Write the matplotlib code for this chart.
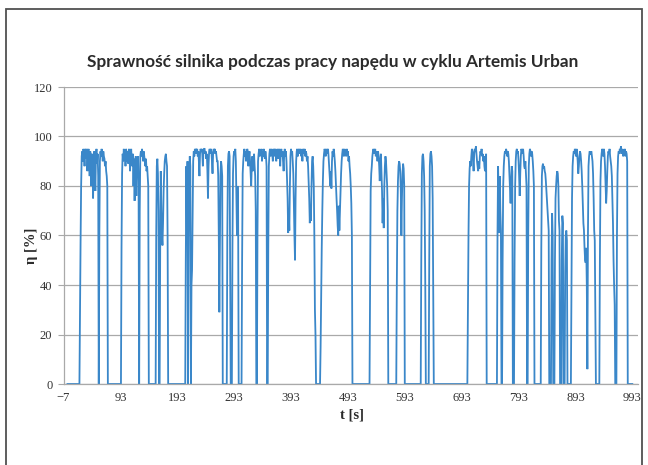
import numpy as np
import matplotlib
matplotlib.use("Agg")
import matplotlib.pyplot as plt
from matplotlib.patches import Rectangle

# ---- data: efficiency (%) sampled at 1 s; zero outside the listed segments ----
cycle_end_s = 993
seg_starts = [22, 95, 156, 208, 281, 307, 334, 353, 445, 532, 579, 622, 636,
              704, 756, 786, 833, 886, 936]
seg_a = [30, 57, 80, 92, 94, 90, 95, 93, 88, 95, 94, 91, 95, 86, 93, 95, 90, 84, 94, 92,
         80, 93, 88, 75, 90, 94, 86, 78, 92, 95, 89, 93, 84, 0, 60, 90, 94, 92, 95, 93,
         90, 94, 92, 91, 88, 90, 86, 84, 80]
seg_b = [55, 85, 93, 90, 95, 92, 94, 88, 95, 93, 90, 94, 89, 95, 92, 86, 93, 95, 90, 88,
         93, 80, 91, 74, 88, 92, 76, 90, 85, 92, 80, 0, 70, 92, 94, 92, 95, 93, 90, 94,
         92, 90, 88, 91, 86, 88, 84, 80]
seg_c = [60, 88, 91, 85, 70, 0, 0, 55, 86, 70, 60, 56, 65, 78, 85, 90, 92, 93, 90, 88, 60]
seg_d = [50, 88, 60, 90, 0, 60, 85, 92, 88, 0, 40, 46, 70, 90, 94, 92, 95,
         93, 95, 94, 95, 92, 94, 90, 84, 93, 95, 94, 95, 93, 88, 94, 95, 95, 93, 94, 91,
         93, 86, 75, 88, 94, 95, 93, 95, 94, 90, 85, 93, 95, 94, 95, 93, 94, 92, 90,
         90, 84, 60, 29, 60, 85, 90, 88, 84]
seg_e = [60, 88, 93, 94, 92, 50, 0, 0, 0, 55, 85, 92, 94, 93, 95, 90, 75, 60, 80, 70]
seg_f = [50, 85, 90, 93, 95, 92, 94, 90, 93, 95, 94, 88, 92, 94, 90, 85, 80, 88, 92, 86,
         90, 93, 88, 84, 70]
seg_g = [60, 90, 93, 95, 92, 94, 93, 95, 90, 94, 92, 95, 93, 91, 94, 92, 88]
seg_h = [55, 88, 93, 95, 92, 94, 95, 93, 90, 94, 95, 92, 95, 94, 90, 93, 95, 94, 91, 95,
         93, 88, 94, 95, 92, 94, 90, 86, 93, 95, 92, 94, 90, 82, 75, 61, 70, 62, 80, 92,
         95, 93, 94, 90, 85, 72, 60, 50, 75, 90, 94, 95, 92, 94, 95, 93, 94, 95, 92, 94,
         90, 95, 93, 94, 95, 92, 94, 93, 90, 92, 88, 82, 75, 65, 72, 66, 80, 90, 92, 88,
         80, 60, 30, 20]
seg_i = [15, 35, 55, 70, 82, 90, 93, 95, 94, 92, 95, 93, 94, 95, 92, 88, 84, 80, 86, 79,
         90, 94, 92, 95, 93, 90, 86, 80, 75, 70, 64, 60, 72, 62, 70, 78, 85, 90, 93, 95,
         94, 92, 95, 93, 94, 92, 95, 93, 94, 90, 92, 88, 85, 80, 73, 60]
seg_j = [40, 78, 85, 88, 92, 94, 95, 93, 94, 95, 92, 94, 93, 90, 94, 92, 88, 82, 90, 93,
         86, 78, 65, 75, 63, 80, 88, 92, 90, 85, 80, 70]
seg_k = [40, 70, 82, 88, 90, 89, 86, 78, 60, 75, 85, 89, 87, 80]
seg_l = [50, 85, 92, 93, 90, 84, 70, 40]
seg_m = [50, 88, 93, 94, 92, 88, 75, 40]
seg_n = [30, 60, 80, 87, 90, 88, 92, 95, 94, 90, 86, 93, 95, 94, 96, 93, 90, 88, 86, 90,
         87, 92, 94, 93, 95, 92, 93, 90, 92, 88, 86, 88, 93]
seg_o = [60, 88, 75, 61, 84, 70, 62, 0, 0, 50, 80, 88, 92, 94, 93, 95, 94, 92, 94, 93,
         90, 84, 78, 73, 82, 88, 86]
seg_p = [50, 80, 90, 94, 95, 93, 94, 90, 84, 76, 85, 92, 95, 94, 93, 95, 92, 88, 87, 90,
         85, 80, 0, 0, 60, 88, 93, 95, 94, 92, 94, 93, 90, 86, 80]
seg_q = [55, 84, 88, 89, 87, 88, 86, 85, 82, 78, 74, 70, 66, 62, 0, 0, 0, 0, 50, 69,
         60, 0, 0, 0, 50, 75, 80, 84, 86, 85, 80, 66, 62, 0, 0, 0, 50, 68, 65, 0,
         0, 0, 45, 60, 62, 58]
seg_r = [40, 75, 88, 92, 94, 93, 95, 94, 92, 95, 93, 90, 85, 88, 92, 94, 93, 90, 86, 80,
         72, 65, 62, 55, 50, 49, 55, 40, 6, 60, 88, 92, 94, 93, 93, 94, 92, 90, 85, 75,
         62, 58, 30]
seg_s = [50, 82, 90, 93, 95, 94, 92, 95, 93, 88, 80, 73, 78, 86, 92, 94, 93, 95, 92, 90,
         88, 84, 75, 65, 50, 40, 32, 0, 0, 0, 60, 85, 92, 94, 93, 95, 94, 96, 93, 94,
         95, 92, 94, 93, 95, 92, 94, 93, 90]
segments = [seg_a, seg_b, seg_c, seg_d, seg_e, seg_f, seg_g, seg_h, seg_i, seg_j,
            seg_k, seg_l, seg_m, seg_n, seg_o, seg_p, seg_q, seg_r, seg_s]

x_ticks = list(range(-7, 994, 100))
y_ticks = list(range(0, 121, 20))
title = "Sprawność silnika podczas pracy napędu w cyklu Artemis Urban"

# ---- assemble the 1 Hz series ----
t = np.arange(0, cycle_end_s + 1)
eta = np.zeros_like(t, dtype=float)
for s, vals in zip(seg_starts, segments):
    eta[s:s + len(vals)] = vals

# ---- figure ----
W, H = 648, 465
fig = plt.figure(figsize=(W / 100, H / 100), dpi=100)
fig.patch.set_facecolor("white")
L, R, T, B = 63.5, 638, 87, 384
ax = fig.add_axes([L / W, 1 - B / H, (R - L) / W, (B - T) / H])
ax.plot(t, eta, color="#3a87c9", lw=1.3, solid_joinstyle="miter")
ax.set_xlim(-7, 1003)
ax.set_ylim(0, 120)
ax.set_xticks(x_ticks)
ax.set_yticks(y_ticks)
ax.grid(axis="y", color="#a9a9a9", lw=0.9)
ax.set_axisbelow(True)
for sp in ("top", "right"):
    ax.spines[sp].set_visible(False)
for sp in ("left", "bottom"):
    ax.spines[sp].set_color("#a9a9a9")
    ax.spines[sp].set_linewidth(0.9)
ax.tick_params(axis="x", length=0, pad=6)
ax.tick_params(axis="y", length=4, color="#a9a9a9", pad=4)
for lab in ax.get_xticklabels() + ax.get_yticklabels():
    lab.set_fontfamily("Liberation Serif")
    lab.set_fontsize(9)
    lab.set_color("#333333")

fig.text(333 / W, 1 - 62 / H, title, ha="center", va="center",
         fontfamily="Lato", fontweight="bold", fontsize=12.4, color="#2b2b2b")
fig.text(352 / W, 1 - 415 / H, "t [s]", ha="center", va="center",
         fontfamily="Liberation Serif", fontweight="bold", fontsize=10.5, color="#2b2b2b")
fig.text(32 / W, 1 - 246 / H, "η [%]", ha="center", va="center", rotation=90,
         fontfamily="Liberation Serif", fontweight="bold", fontsize=10.5, color="#2b2b2b")

# outer frame (bottom edge lies just below the picture, as in the reference)
fig.patches.append(Rectangle((6 / W, 1 - 470 / H), (642 - 6) / W, (470 - 9) / H,
                             transform=fig.transFigure, fill=False,
                             ec="#505050", lw=1.3))

fig.savefig("out.png", dpi=100, facecolor="white")
